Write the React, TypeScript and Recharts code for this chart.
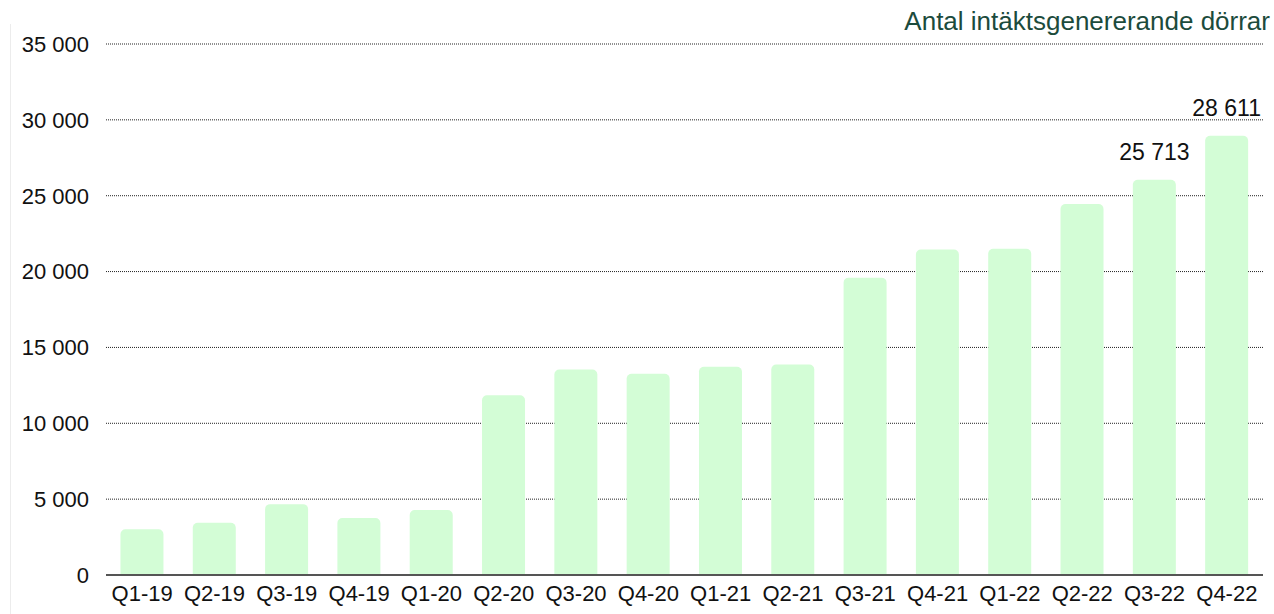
import React from 'react';
import { BarChart, Bar, XAxis, YAxis, CartesianGrid, LabelList } from 'recharts';

const categories = ['Q1-19', 'Q2-19', 'Q3-19', 'Q4-19', 'Q1-20', 'Q2-20', 'Q3-20', 'Q4-20', 'Q1-21', 'Q2-21', 'Q3-21', 'Q4-21', 'Q1-22', 'Q2-22', 'Q3-22', 'Q4-22'];
const doors = [3010, 3440, 4670, 3750, 4280, 11840, 13550, 13270, 13730, 13880, 19600, 21450, 21510, 24450, 26050, 28950];
const valueLabels = ['', '', '', '', '', '', '', '', '', '', '', '', '', '', '25 713', '28 611'];
const yTicks = [0, 5000, 10000, 15000, 20000, 25000, 30000, 35000];
const title = 'Antal intäktsgenererande dörrar';

const data = categories.map((c, i) => ({ name: c, value: doors[i], label: valueLabels[i] }));

const FONT = '"Liberation Sans", Arial, Helvetica, sans-serif';

const fmt = (v: number) => (v >= 1000 ? `${Math.floor(v / 1000)} ${String(v % 1000).padStart(3, '0')}` : String(v));

const renderLabel = (props: any) => {
  const { x, y, width, value } = props;
  if (!value) return null;
  return (
    <text
      x={Number(x) + Number(width) / 2}
      y={Number(y) - 20}
      textAnchor="middle"
      fill="#111"
      fontSize={23}
      fontFamily={FONT}
    >
      {value}
    </text>
  );
};

export default function App() {
  return (
    <div style={{ position: 'absolute', left: 0, top: 0, width: 1274, height: 614, background: '#fff', fontFamily: FONT }}>
      <div style={{ position: 'absolute', left: 10, top: 24, width: 1, height: 590, background: '#ececec' }} />
      <div
        style={{
          position: 'absolute',
          right: 4,
          top: 9,
          fontSize: 26,
          lineHeight: '25px',
          color: '#1c4b3c',
          fontFamily: FONT,
          whiteSpace: 'nowrap',
        }}
      >
        {title}
      </div>
      <BarChart
        width={1274}
        height={614}
        data={data}
        margin={{ top: 44, right: 11, bottom: 9, left: 0 }}
        barCategoryGap="20%"
      >
        <CartesianGrid vertical={false} stroke="#222" strokeDasharray="1 1" />
        <XAxis
          dataKey="name"
          height={30}
          tickLine={false}
          tickSize={0}
          tickMargin={10}
          axisLine={{ stroke: '#555', strokeWidth: 2 }}
          tick={{ fill: '#111', fontSize: 22, fontFamily: FONT }}
          interval={0}
        />
        <YAxis
          width={106}
          domain={[0, 35000]}
          ticks={yTicks}
          tickFormatter={fmt}
          axisLine={false}
          tickLine={false}
          tickSize={0}
          tickMargin={17}
          tick={{ fill: '#111', fontSize: 22, fontFamily: FONT }}
          interval={0}
        />
        <Bar dataKey="value" fill="#d3fdd6" radius={[5, 5, 0, 0]} isAnimationActive={false}>
          <LabelList dataKey="label" content={renderLabel} />
        </Bar>
      </BarChart>
    </div>
  );
}
